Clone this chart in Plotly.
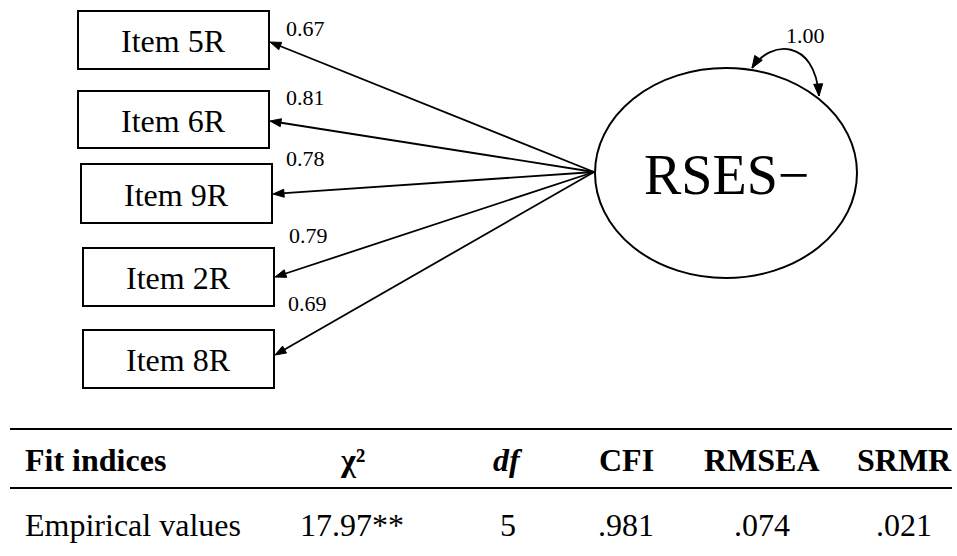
import math
import plotly.graph_objects as go

# ---- model content ----
items = ["Item 5R", "Item 6R", "Item 9R", "Item 2R", "Item 8R"]
loadings = [0.67, 0.81, 0.78, 0.79, 0.69]
factor_name = "RSES−"
factor_variance = 1.00

fit_labels = ["Fit indices", "χ²", "<i>df</i>", "CFI", "RMSEA", "SRMR"]
fit_row_label = "Empirical values"
chi2 = 17.97
chi2_sig = "**"
df_value = 5
cfi = 0.981
rmsea = 0.074
srmr = 0.021

# ---- layout geometry (pixels, y downward) ----
W, H = 957, 556
box_x0 = [78, 78, 81, 83, 83]
box_x1 = [269, 269, 272, 274, 274]
box_y0 = [11, 91, 164, 248, 330]
box_y1 = [69, 148, 223, 306, 388]
tip_y = [42, 121, 194, 277, 355]
label_xy = [(305, 28), (305, 97), (305, 158), (308, 235), (307, 303)]
ell_cx, ell_cy, ell_rx, ell_ry = 726, 173, 131, 105
source = (594, 172)
loop_pts = [(752, 68), (770, 40), (815, 38), (819, 96)]
loop_label = (805, 35)
table_x0, table_x1 = 10, 952
rule_y = [429, 488]
head_y, row_y = 460, 525
col_x = [23, 352, 508, 626, 762, 904]

SERIF = "'Liberation Serif', 'Times New Roman', 'DejaVu Serif', serif"
LW = 2

fig = go.Figure()
shapes = []
ann = []


def head_path(tip, direction, length=11, width=8):
    dx, dy = direction
    n = math.hypot(dx, dy)
    ux, uy = dx / n, dy / n
    bx, by = tip[0] - ux * length, tip[1] - uy * length
    px, py = -uy * width / 2, ux * width / 2
    return (f"M{tip[0]},{tip[1]} L{bx + px},{by + py} "
            f"L{bx - px},{by - py} Z")


def text(x, y, s, size, xanchor="center", bold=False):
    if bold:
        s = f"<b>{s}</b>"
    ann.append(dict(x=x, y=y, xref="x", yref="y", text=s, showarrow=False,
                    xanchor=xanchor, yanchor="middle",
                    font=dict(family=SERIF, size=size, color="black")))


# observed-indicator boxes, loadings and arrows
for i, name in enumerate(items):
    shapes.append(dict(type="rect", x0=box_x0[i], x1=box_x1[i],
                       y0=box_y0[i], y1=box_y1[i],
                       line=dict(color="black", width=LW)))
    text((box_x0[i] + box_x1[i]) / 2, (box_y0[i] + box_y1[i]) / 2 + 1,
         name, 32)
    tip = (box_x1[i] + 1, tip_y[i])
    d = (tip[0] - source[0], tip[1] - source[1])
    n = math.hypot(*d)
    end = (tip[0] - d[0] / n * 8, tip[1] - d[1] / n * 8)
    shapes.append(dict(type="line", x0=source[0], y0=source[1],
                       x1=end[0], y1=end[1],
                       line=dict(color="black", width=1.8)))
    shapes.append(dict(type="path", path=head_path(tip, d),
                       fillcolor="black", line=dict(color="black", width=1)))
    text(label_xy[i][0], label_xy[i][1], f"{loadings[i]:.2f}", 22)

# latent factor
shapes.append(dict(type="circle", x0=ell_cx - ell_rx, x1=ell_cx + ell_rx,
                   y0=ell_cy - ell_ry, y1=ell_cy + ell_ry,
                   line=dict(color="black", width=LW)))
text(ell_cx, ell_cy + 2, factor_name, 56)

# variance loop (double-headed curve)
p0, p1, p2, p3 = loop_pts
shapes.append(dict(type="path",
                   path=f"M{p0[0]},{p0[1]} C{p1[0]},{p1[1]} {p2[0]},{p2[1]} {p3[0]},{p3[1]}",
                   line=dict(color="black", width=1.8)))
shapes.append(dict(type="path",
                   path=head_path(p0, (p0[0] - p1[0], p0[1] - p1[1]), 12, 9),
                   fillcolor="black", line=dict(color="black", width=1)))
shapes.append(dict(type="path",
                   path=head_path(p3, (p3[0] - p2[0], p3[1] - p2[1]), 12, 9),
                   fillcolor="black", line=dict(color="black", width=1)))
text(loop_label[0], loop_label[1], f"{factor_variance:.2f}", 22)

# fit-index table
for y in rule_y:
    shapes.append(dict(type="line", x0=table_x0, x1=table_x1, y0=y, y1=y,
                       line=dict(color="black", width=2.2)))


def trim(v):
    return f"{v:.3f}".lstrip("0")


row_vals = [fit_row_label, f"{chi2:.2f}{chi2_sig}", str(df_value),
            trim(cfi), trim(rmsea), trim(srmr)]
for j, (h, v) in enumerate(zip(fit_labels, row_vals)):
    xa = "left" if j == 0 else "center"
    text(col_x[j], head_y, h, 32, xanchor=xa, bold=True)
    text(col_x[j], row_y, v, 32, xanchor=xa)

fig.update_layout(
    width=W, height=H, autosize=False,
    margin=dict(l=0, r=0, t=0, b=0),
    paper_bgcolor="white", plot_bgcolor="white",
    xaxis=dict(range=[0, W], visible=False, fixedrange=True),
    yaxis=dict(range=[H, 0], visible=False, fixedrange=True),
    shapes=shapes, annotations=ann, showlegend=False,
)

fig.write_html("out.html", config={"displayModeBar": False})
